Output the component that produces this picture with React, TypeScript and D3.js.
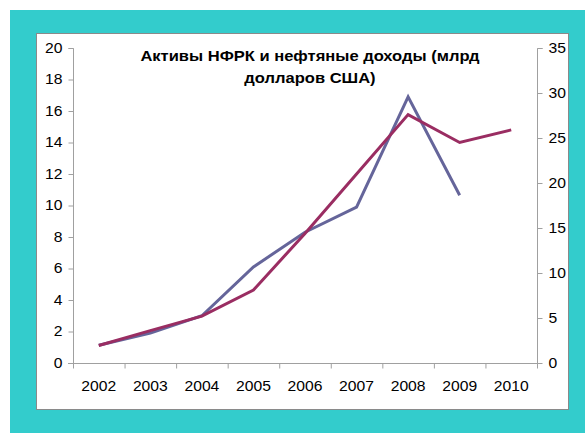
import React, { useEffect, useRef } from "react";
import * as d3 from "d3";

const years = ["2002", "2003", "2004", "2005", "2006", "2007", "2008", "2009", "2010"];
// oil revenues, left axis
const oilRevenue = [1.13, 1.9, 3.0, 6.1, 8.3, 9.9, 16.9, 10.65];
// NFRK assets, right axis
const nfrkAssets = [1.95, 3.6, 5.2, 8.1, 14.4, 21.0, 27.6, 24.5, 25.9];
const leftTicks = [0, 2, 4, 6, 8, 10, 12, 14, 16, 18, 20];
const rightTicks = [0, 5, 10, 15, 20, 25, 30, 35];
const titleLines = ["Активы НФРК и нефтяные доходы (млрд", "долларов США)"];

const App = () => {
    const ref = useRef<SVGSVGElement>(null);

    useEffect(() => {
        const svg = d3.select(ref.current);
        svg.selectAll("*").remove();

        const font = "'Liberation Sans', Arial, sans-serif";
        const x0 = 73, x1 = 537, yTop = 48, yBot = 363;

        // background
        svg.append("rect").attr("x", 10).attr("y", 10).attr("width", 575).attr("height", 423).attr("fill", "#33CCCC");
        svg.append("rect").attr("x", 36.5).attr("y", 33.5).attr("width", 532).attr("height", 376)
            .attr("fill", "#fff").attr("stroke", "#8a8a8a").attr("stroke-width", 1);

        const x = d3.scaleBand().domain(years).range([x0, x1]);
        const yL = d3.scaleLinear().domain([0, 20]).range([yBot, yTop]);
        const yR = d3.scaleLinear().domain([0, 35]).range([yBot, yTop]);

        const axisColor = "#a0a0a0";

        // Left axis
        const gl = svg.append("g").attr("transform", `translate(${x0 + 0.5},0)`)
            .call(d3.axisLeft(yL).tickValues(leftTicks).tickSize(5).tickPadding(6));
        // Right axis
        const gr = svg.append("g").attr("transform", `translate(${x1 + 0.5},0)`)
            .call(d3.axisRight(yR).tickValues(rightTicks).tickSize(5).tickPadding(6));
        // X axis
        const gx = svg.append("g").attr("transform", `translate(0,${yBot + 0.5})`)
            .call(d3.axisBottom(x).tickSize(0).tickPadding(18));
        gx.selectAll(".xt").data([...years.map(y => x(y) as number), x1]).join("line").attr("class", "xt")
            .attr("x1", d => d + 0.5).attr("x2", d => d + 0.5).attr("y1", 0).attr("y2", 5).attr("stroke", axisColor);

        [gl, gr, gx].forEach(g => {
            g.select(".domain").attr("stroke", axisColor);
            g.selectAll(".tick line").attr("stroke", axisColor);
            g.selectAll("text").attr("fill", "#000").style("font-family", font).style("font-size", "14px");
        });
        gl.select(".domain").attr("d", `M-5,${yTop + 0.5}H0V${yBot + 0.5}`);
        gr.select(".domain").attr("d", `M5,${yTop + 0.5}H0V${yBot + 0.5}`);
        gx.select(".domain").attr("d", `M${x0 - 5},0H${x1 + 5}`);

        // reference text is a bit wider than the font
        const stretch = (sel: any, k: number) => sel.each(function (this: SVGTextElement) {
            const w = this.getComputedTextLength();
            d3.select(this).attr("textLength", w * k).attr("lengthAdjust", "spacingAndGlyphs");
        });
        [gl, gr, gx].forEach(g => stretch(g.selectAll(".tick text"), 1.12));

        const cx = (d: string) => (x(d) as number) + x.bandwidth() / 2;

        const lineL = d3.line<number>().x((d, i) => cx(years[i])).y(d => yL(d));
        const lineR = d3.line<number>().x((d, i) => cx(years[i])).y(d => yR(d));

        svg.append("path").datum(oilRevenue).attr("d", lineL).attr("fill", "none")
            .attr("stroke", "#65659a").attr("stroke-width", 3);
        svg.append("path").datum(nfrkAssets).attr("d", lineR).attr("fill", "none")
            .attr("stroke", "#9a2d62").attr("stroke-width", 3);

        // Title
        const title = svg.selectAll(".title").data(titleLines).join("text").attr("class", "title")
            .attr("x", 310).attr("y", (d, i) => 61 + i * 22)
            .attr("text-anchor", "middle")
            .style("font-family", font).style("font-size", "14px").style("font-weight", "bold")
            .text(d => d);
        stretch(title, 1.18);
    }, []);

    return (
        <svg ref={ref} width={585} height={433} style={{ position: "absolute", left: 0, top: 0 }}></svg>
    );
};

export default App;
